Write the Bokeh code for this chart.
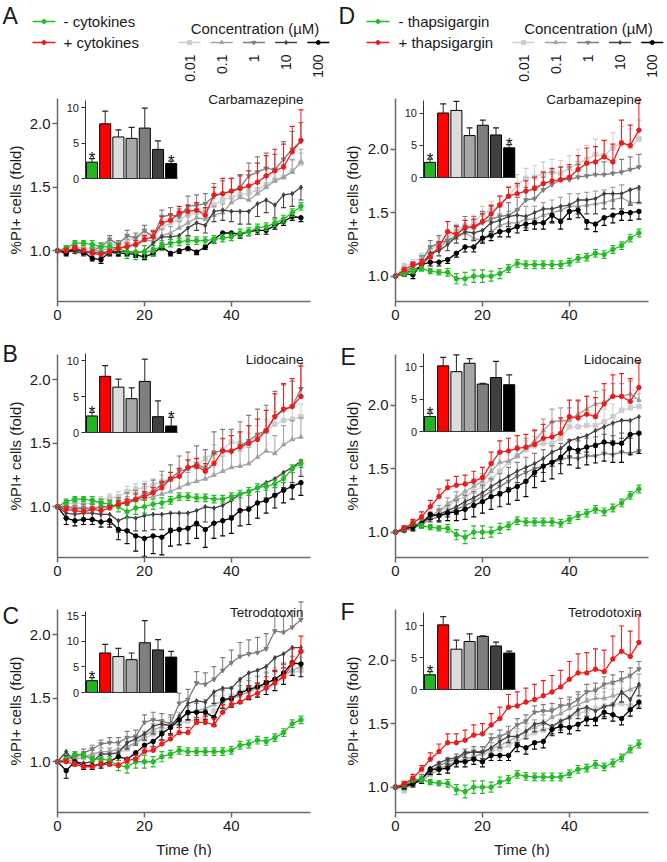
import math
from bokeh.plotting import figure
from bokeh.models import Range1d, FixedTicker, PrintfTickFormatter, LinearAxis
from bokeh.layouts import row, column
from bokeh.embed import file_html
from bokeh.resources import INLINE
from bokeh.core.properties import value

# ---------------- data ----------------
T = [0, 2, 4, 6, 8, 10, 12, 14, 16, 18, 20, 22, 24, 26, 28, 30, 32, 34, 36, 38, 40, 42, 44, 46, 48, 50, 52, 54, 56]
X_TICKS = [0, 20, 40]
Y_TICKS = [1.0, 1.5, 2.0]
CONC_LABELS = ["0.01", "0.1", "1", "10", "100"]
BAR_GROUPS = ["-", "+", "0.01", "0.1", "1", "10", "100"]

# Panel A - Carbamazepine (cytokines)
A_GREEN = [1.00,1.02,1.06,1.06,1.05,1.03,1.03,1.02,0.99,0.99,0.99,1.00,1.04,1.06,1.07,1.08,1.08,1.08,1.09,1.10,1.11,1.14,1.15,1.18,1.19,1.22,1.25,1.30,1.35]
A_RED = [1.00,1.00,1.02,1.00,0.98,0.97,0.99,1.02,1.03,1.05,1.09,1.11,1.22,1.24,1.30,1.31,1.32,1.28,1.44,1.45,1.47,1.49,1.51,1.54,1.59,1.63,1.66,1.78,1.87]
A_C001 = [1.00,1.02,1.03,1.02,1.02,1.03,1.05,1.04,1.08,1.10,1.13,1.12,1.18,1.22,1.25,1.28,1.30,1.32,1.36,1.40,1.42,1.44,1.45,1.48,1.52,1.56,1.58,1.63,1.69]
A_C01 = [1.00,1.00,1.01,0.99,1.00,1.00,1.02,1.01,1.05,1.04,1.08,1.08,1.12,1.14,1.18,1.22,1.26,1.25,1.28,1.30,1.38,1.42,1.40,1.45,1.50,1.55,1.58,1.62,1.70]
A_C1 = [1.00,1.00,0.99,0.98,1.00,1.03,1.09,1.05,1.12,1.10,1.16,1.11,1.27,1.28,1.27,1.35,1.36,1.37,1.43,1.45,1.47,1.50,1.59,1.62,1.65,1.64,1.72,1.80,1.86]
A_C10 = [1.00,0.99,1.00,0.98,0.99,0.98,1.00,0.99,1.00,0.98,1.00,1.06,1.11,1.11,1.12,1.18,1.22,1.20,1.31,1.32,1.31,1.31,1.31,1.37,1.40,1.36,1.44,1.45,1.50]
A_C100 = [1.00,0.98,1.02,0.99,0.94,0.93,0.99,0.98,0.98,0.97,0.95,0.98,1.03,0.98,1.00,1.02,0.99,1.03,1.09,1.14,1.14,1.13,1.15,1.16,1.16,1.20,1.23,1.27,1.26]
A_GREEN_ERR = [0.00,0.02,0.02,0.02,0.03,0.03,0.03,0.04,0.05,0.06,0.05,0.04,0.04,0.03,0.03,0.03,0.03,0.03,0.03,0.03,0.03,0.03,0.03,0.03,0.03,0.03,0.03,0.03,0.03]
A_RED_ERR = [0.00,0.02,0.02,0.02,0.02,0.02,0.02,0.03,0.03,0.03,0.03,0.04,0.05,0.05,0.05,0.05,0.06,0.06,0.06,0.12,0.10,0.10,0.12,0.15,0.16,0.17,0.18,0.20,0.24]
A_C001_ERR = [0.00,0.02,0.02,0.02,0.02,0.02,0.03,0.03,0.03,0.03,0.03,0.04,0.04,0.04,0.05,0.05,0.05,0.05,0.05,0.06,0.06,0.06,0.07,0.07,0.07,0.08,0.08,0.08,0.08]
A_C01_ERR = [0.00,0.02,0.02,0.02,0.03,0.03,0.03,0.03,0.04,0.04,0.04,0.04,0.05,0.05,0.05,0.06,0.06,0.06,0.07,0.07,0.08,0.08,0.08,0.09,0.09,0.10,0.10,0.10,0.10]
A_C1_ERR = [0.00,0.02,0.02,0.02,0.02,0.03,0.03,0.03,0.04,0.04,0.04,0.05,0.05,0.06,0.06,0.08,0.08,0.08,0.10,0.10,0.10,0.10,0.10,0.12,0.12,0.12,0.14,0.14,0.15]
A_C10_ERR = [0.00,0.02,0.02,0.02,0.02,0.03,0.03,0.03,0.03,0.03,0.03,0.04,0.05,0.05,0.05,0.06,0.06,0.06,0.08,0.08,0.08,0.10,0.10,0.10,0.10,0.10,0.10,0.10,0.10]
A_C100_ERR = [0.00,0.02,0.02,0.02,0.02,0.03,0.03,0.02,0.02,0.02,0.02,0.02,0.02,0.02,0.02,0.02,0.02,0.02,0.03,0.03,0.03,0.03,0.03,0.03,0.03,0.03,0.03,0.03,0.03]
A_BARS = [2.3, 7.7, 5.85, 5.65, 7.1, 4.1, 2.1]
A_BAR_ERR = [0.5, 1.8, 1.0, 1.55, 2.8, 1.2, 0.35]
A_STARS = [1, 0, 0, 0, 0, 0, 1]

# Panel B - Lidocaine (cytokines)
B_GREEN = [1.00,1.04,1.06,1.06,1.05,1.03,1.02,1.00,0.96,0.99,1.00,1.02,1.03,1.05,1.08,1.08,1.07,1.07,1.06,1.06,1.08,1.10,1.12,1.15,1.16,1.18,1.22,1.30,1.34]
B_RED = [1.00,0.98,0.97,0.96,0.98,0.97,0.99,1.02,1.03,1.06,1.08,1.11,1.15,1.22,1.24,1.31,1.32,1.28,1.34,1.44,1.44,1.47,1.50,1.53,1.60,1.71,1.77,1.79,1.87]
B_C001 = [1.00,1.02,1.03,1.02,1.03,1.05,1.07,1.08,1.12,1.14,1.15,1.17,1.20,1.22,1.25,1.30,1.32,1.38,1.42,1.45,1.51,1.50,1.50,1.55,1.60,1.65,1.68,1.69,1.71]
B_C01 = [1.00,1.00,1.00,0.99,0.99,1.00,1.00,1.02,1.03,1.05,1.06,1.08,1.10,1.12,1.15,1.18,1.20,1.22,1.25,1.28,1.31,1.32,1.34,1.39,1.44,1.42,1.49,1.53,1.55]
B_C1 = [1.00,1.00,0.98,0.99,0.98,1.00,1.00,1.02,1.05,1.06,1.10,1.12,1.18,1.22,1.28,1.30,1.34,1.30,1.43,1.44,1.43,1.48,1.52,1.57,1.60,1.71,1.76,1.79,1.93]
B_C10 = [1.00,0.95,0.94,0.95,0.95,0.94,0.94,0.89,0.92,0.91,0.93,0.94,0.94,0.95,0.95,0.95,0.97,1.00,0.99,1.01,1.05,1.10,1.12,1.15,1.19,1.22,1.27,1.31,1.36]
B_C100 = [1.00,0.91,0.89,0.90,0.90,0.88,0.89,0.82,0.81,0.77,0.75,0.77,0.76,0.81,0.82,0.83,0.87,0.82,0.87,0.89,0.91,0.97,0.98,1.03,1.05,1.09,1.13,1.16,1.19]
B_GREEN_ERR = [0.00,0.02,0.02,0.02,0.03,0.03,0.03,0.04,0.05,0.05,0.05,0.04,0.04,0.03,0.03,0.03,0.03,0.03,0.03,0.03,0.03,0.03,0.03,0.03,0.03,0.03,0.03,0.03,0.03]
B_RED_ERR = [0.00,0.02,0.02,0.02,0.02,0.02,0.02,0.03,0.03,0.04,0.04,0.04,0.05,0.05,0.06,0.06,0.06,0.06,0.08,0.10,0.12,0.12,0.14,0.16,0.16,0.18,0.20,0.22,0.24]
B_C001_ERR = [0.00,0.02,0.02,0.02,0.03,0.03,0.03,0.04,0.04,0.04,0.05,0.05,0.05,0.06,0.06,0.06,0.07,0.07,0.07,0.08,0.08,0.08,0.08,0.09,0.09,0.10,0.10,0.10,0.10]
B_C01_ERR = [0.00,0.03,0.03,0.03,0.03,0.04,0.04,0.05,0.05,0.06,0.06,0.07,0.07,0.08,0.08,0.09,0.10,0.10,0.11,0.12,0.12,0.12,0.13,0.14,0.14,0.14,0.15,0.15,0.15]
B_C1_ERR = [0.00,0.03,0.03,0.03,0.04,0.04,0.05,0.05,0.06,0.07,0.08,0.09,0.10,0.11,0.12,0.13,0.14,0.15,0.16,0.17,0.18,0.19,0.20,0.20,0.20,0.20,0.20,0.20,0.20]
B_C10_ERR = [0.00,0.04,0.05,0.05,0.06,0.07,0.08,0.09,0.10,0.10,0.12,0.12,0.12,0.12,0.12,0.12,0.12,0.12,0.12,0.12,0.12,0.12,0.12,0.12,0.12,0.12,0.12,0.12,0.12]
B_C100_ERR = [0.00,0.05,0.04,0.04,0.04,0.04,0.05,0.08,0.10,0.12,0.14,0.14,0.14,0.12,0.12,0.12,0.12,0.14,0.12,0.12,0.12,0.12,0.12,0.12,0.10,0.10,0.10,0.10,0.10]
B_BARS = [2.3, 7.8, 6.3, 4.7, 7.1, 2.2, 0.9]
B_BAR_ERR = [0.5, 1.5, 1.1, 1.5, 3.1, 2.2, 1.2]
B_STARS = [1, 0, 0, 0, 0, 0, 1]

# Panel C - Tetrodotoxin (cytokines)
C_GREEN = [1.00,1.02,1.06,1.05,1.02,1.02,1.01,0.97,0.96,1.00,1.00,1.00,1.04,1.06,1.09,1.08,1.08,1.08,1.08,1.08,1.09,1.13,1.14,1.17,1.16,1.19,1.23,1.30,1.33]
C_RED = [1.00,1.00,0.98,0.96,0.96,0.98,0.98,0.97,1.01,1.02,1.08,1.09,1.14,1.18,1.23,1.23,1.31,1.31,1.29,1.39,1.45,1.47,1.51,1.54,1.58,1.62,1.67,1.77,1.87]
C_C001 = [1.00,1.01,1.03,1.05,1.05,1.06,1.07,1.07,1.10,1.15,1.18,1.22,1.25,1.28,1.30,1.32,1.33,1.35,1.40,1.45,1.52,1.55,1.58,1.60,1.62,1.65,1.66,1.70,1.72]
C_C01 = [1.00,1.00,1.02,1.03,1.06,1.08,1.08,1.10,1.12,1.15,1.20,1.25,1.28,1.30,1.33,1.38,1.40,1.42,1.45,1.48,1.50,1.52,1.55,1.58,1.60,1.62,1.68,1.72,1.75]
C_C1 = [1.00,1.02,1.04,1.07,1.10,1.14,1.15,1.15,1.19,1.20,1.31,1.33,1.32,1.30,1.46,1.49,1.62,1.61,1.65,1.72,1.78,1.83,1.85,1.86,1.89,2.03,2.02,2.06,2.12]
C_C10 = [1.00,1.08,1.00,0.99,1.00,1.06,1.06,1.07,1.15,1.18,1.22,1.28,1.30,1.28,1.36,1.46,1.48,1.47,1.55,1.58,1.58,1.65,1.70,1.72,1.75,1.82,1.85,1.90,1.90]
C_C100 = [1.00,0.93,1.00,0.97,0.97,0.98,1.00,1.04,1.02,1.07,1.13,1.16,1.22,1.27,1.33,1.39,1.39,1.39,1.35,1.49,1.50,1.54,1.57,1.59,1.62,1.65,1.70,1.78,1.77]
C_GREEN_ERR = [0.00,0.02,0.02,0.02,0.02,0.02,0.03,0.04,0.05,0.05,0.05,0.04,0.04,0.03,0.03,0.03,0.03,0.03,0.03,0.03,0.03,0.03,0.03,0.03,0.03,0.03,0.03,0.03,0.03]
C_RED_ERR = [0.00,0.02,0.02,0.02,0.02,0.02,0.02,0.02,0.02,0.03,0.03,0.03,0.03,0.03,0.04,0.04,0.04,0.05,0.05,0.06,0.06,0.07,0.08,0.08,0.09,0.10,0.10,0.12,0.12]
C_C001_ERR = [0.00,0.02,0.02,0.02,0.02,0.02,0.03,0.03,0.03,0.03,0.04,0.04,0.04,0.05,0.05,0.05,0.06,0.06,0.06,0.07,0.07,0.08,0.08,0.08,0.09,0.09,0.10,0.10,0.10]
C_C01_ERR = [0.00,0.02,0.02,0.02,0.03,0.03,0.03,0.03,0.04,0.04,0.04,0.05,0.05,0.05,0.06,0.06,0.06,0.07,0.07,0.08,0.08,0.08,0.09,0.09,0.10,0.10,0.10,0.11,0.11]
C_C1_ERR = [0.00,0.02,0.02,0.03,0.03,0.03,0.04,0.04,0.05,0.05,0.06,0.06,0.06,0.07,0.08,0.08,0.09,0.09,0.10,0.10,0.10,0.11,0.11,0.12,0.12,0.12,0.13,0.13,0.14]
C_C10_ERR = [0.00,0.03,0.03,0.03,0.03,0.04,0.04,0.04,0.05,0.05,0.05,0.06,0.06,0.07,0.07,0.08,0.08,0.08,0.09,0.09,0.10,0.10,0.10,0.10,0.11,0.11,0.11,0.12,0.12]
C_C100_ERR = [0.00,0.06,0.03,0.03,0.03,0.03,0.03,0.03,0.03,0.04,0.04,0.04,0.05,0.05,0.06,0.06,0.06,0.06,0.07,0.07,0.07,0.08,0.08,0.08,0.09,0.09,0.09,0.10,0.10]
C_BARS = [2.3, 7.7, 7.0, 6.4, 9.7, 8.3, 6.9]
C_BAR_ERR = [0.6, 1.7, 1.6, 1.3, 4.3, 2.0, 1.1]
C_STARS = [1, 0, 0, 0, 0, 0, 0]

# Panel D - Carbamazepine (thapsigargin)
D_GREEN = [1.00,1.02,1.04,1.06,1.04,1.03,1.03,0.98,0.98,1.00,1.00,1.00,1.02,1.06,1.10,1.09,1.09,1.09,1.09,1.09,1.11,1.14,1.15,1.18,1.17,1.21,1.24,1.30,1.34]
D_RED = [1.00,1.05,1.09,1.10,1.15,1.23,1.35,1.33,1.38,1.39,1.43,1.49,1.56,1.63,1.65,1.67,1.69,1.73,1.75,1.76,1.78,1.84,1.89,1.90,1.94,1.90,2.05,2.03,2.15]
D_C001 = [1.00,1.08,1.10,1.15,1.20,1.26,1.30,1.36,1.38,1.42,1.49,1.52,1.56,1.63,1.72,1.77,1.78,1.81,1.82,1.81,1.85,1.89,1.92,1.96,1.95,2.01,2.05,2.02,2.08]
D_C01 = [1.00,1.03,1.08,1.10,1.18,1.22,1.28,1.30,1.34,1.30,1.28,1.35,1.40,1.42,1.42,1.45,1.45,1.48,1.50,1.52,1.55,1.55,1.56,1.57,1.58,1.60,1.62,1.58,1.58]
D_C1 = [1.00,1.03,1.07,1.12,1.23,1.26,1.28,1.32,1.39,1.38,1.42,1.45,1.47,1.48,1.52,1.60,1.61,1.68,1.72,1.76,1.76,1.78,1.79,1.80,1.80,1.81,1.82,1.84,1.86]
D_C10 = [1.00,1.02,1.05,1.08,1.18,1.20,1.25,1.31,1.35,1.34,1.36,1.42,1.44,1.47,1.48,1.47,1.50,1.53,1.53,1.55,1.56,1.60,1.60,1.61,1.65,1.65,1.65,1.68,1.70]
D_C100 = [1.00,1.02,1.01,1.09,1.11,1.11,1.13,1.18,1.23,1.23,1.30,1.32,1.35,1.36,1.39,1.41,1.42,1.42,1.48,1.43,1.51,1.52,1.43,1.41,1.46,1.48,1.50,1.50,1.51]
D_GREEN_ERR = [0.00,0.02,0.02,0.02,0.02,0.02,0.03,0.04,0.05,0.05,0.05,0.04,0.04,0.03,0.03,0.03,0.03,0.03,0.03,0.03,0.03,0.03,0.03,0.03,0.03,0.03,0.03,0.03,0.03]
D_RED_ERR = [0.00,0.02,0.02,0.03,0.03,0.04,0.08,0.06,0.06,0.06,0.06,0.07,0.07,0.07,0.08,0.08,0.09,0.09,0.10,0.10,0.10,0.11,0.12,0.12,0.13,0.14,0.18,0.16,0.24]
D_C001_ERR = [0.00,0.02,0.03,0.03,0.04,0.04,0.05,0.05,0.06,0.06,0.06,0.07,0.07,0.08,0.08,0.08,0.09,0.09,0.10,0.10,0.10,0.11,0.11,0.12,0.12,0.12,0.13,0.14,0.15]
D_C01_ERR = [0.00,0.02,0.03,0.03,0.04,0.05,0.06,0.06,0.07,0.07,0.08,0.08,0.09,0.09,0.10,0.10,0.10,0.10,0.10,0.10,0.10,0.10,0.10,0.10,0.10,0.10,0.10,0.10,0.10]
D_C1_ERR = [0.00,0.02,0.03,0.04,0.05,0.06,0.07,0.08,0.08,0.09,0.09,0.10,0.10,0.10,0.10,0.10,0.10,0.10,0.10,0.10,0.10,0.10,0.10,0.10,0.10,0.10,0.10,0.10,0.10]
D_C10_ERR = [0.00,0.02,0.03,0.03,0.04,0.04,0.05,0.05,0.06,0.06,0.07,0.07,0.08,0.08,0.08,0.09,0.09,0.10,0.10,0.10,0.11,0.11,0.11,0.12,0.12,0.12,0.12,0.12,0.12]
D_C100_ERR = [0.00,0.02,0.03,0.03,0.03,0.03,0.03,0.03,0.04,0.04,0.04,0.04,0.04,0.05,0.05,0.05,0.05,0.05,0.06,0.06,0.06,0.06,0.06,0.06,0.06,0.06,0.06,0.06,0.06]
D_BARS = [2.35, 10.0, 10.4, 6.5, 8.1, 6.6, 4.6]
D_BAR_ERR = [0.5, 1.4, 1.4, 1.2, 0.8, 1.1, 0.5]
D_STARS = [1, 0, 0, 0, 0, 0, 1]

# Panel E - Lidocaine (thapsigargin)
E_GREEN = [1.00,1.03,1.07,1.05,1.04,1.03,1.03,0.98,0.96,1.00,1.00,1.00,1.03,1.05,1.09,1.08,1.08,1.08,1.08,1.07,1.10,1.13,1.15,1.18,1.16,1.19,1.23,1.29,1.34]
E_RED = [1.00,1.03,1.07,1.12,1.20,1.28,1.35,1.37,1.38,1.40,1.43,1.54,1.63,1.64,1.66,1.67,1.69,1.74,1.75,1.78,1.91,1.90,1.93,1.91,2.01,2.07,2.07,2.03,2.14]
E_C001 = [1.00,1.02,1.05,1.08,1.12,1.16,1.20,1.25,1.28,1.32,1.36,1.42,1.48,1.55,1.60,1.65,1.68,1.70,1.70,1.74,1.83,1.83,1.84,1.84,1.87,1.91,1.96,1.98,1.99]
E_C01 = [1.00,1.02,1.04,1.08,1.12,1.17,1.22,1.27,1.32,1.36,1.40,1.48,1.55,1.56,1.60,1.66,1.72,1.80,1.87,1.88,1.88,1.93,1.97,2.01,2.02,2.07,2.07,2.09,2.04]
E_C1 = [1.00,1.01,1.03,1.06,1.10,1.12,1.15,1.18,1.21,1.24,1.28,1.32,1.36,1.40,1.44,1.47,1.50,1.52,1.55,1.57,1.59,1.58,1.60,1.60,1.62,1.61,1.63,1.62,1.64]
E_C10 = [1.00,1.02,1.05,1.07,1.12,1.14,1.17,1.20,1.24,1.27,1.31,1.36,1.40,1.44,1.48,1.51,1.54,1.58,1.63,1.66,1.72,1.74,1.76,1.80,1.83,1.86,1.88,1.88,1.91]
E_C100 = [1.00,1.03,1.04,1.07,1.14,1.13,1.15,1.16,1.18,1.21,1.24,1.28,1.30,1.33,1.36,1.40,1.47,1.52,1.55,1.59,1.66,1.645,1.67,1.685,1.71,1.70,1.70,1.77,1.78]
E_GREEN_ERR = [0.00,0.02,0.02,0.02,0.02,0.02,0.03,0.04,0.05,0.05,0.05,0.04,0.04,0.03,0.03,0.03,0.03,0.03,0.03,0.03,0.03,0.03,0.03,0.03,0.03,0.03,0.03,0.03,0.03]
E_RED_ERR = [0.00,0.02,0.03,0.04,0.05,0.06,0.06,0.07,0.07,0.08,0.08,0.09,0.09,0.10,0.10,0.10,0.11,0.11,0.12,0.12,0.13,0.14,0.14,0.15,0.16,0.17,0.18,0.18,0.20]
E_C001_ERR = [0.00,0.02,0.02,0.03,0.03,0.03,0.04,0.04,0.04,0.05,0.05,0.05,0.06,0.06,0.06,0.07,0.07,0.07,0.08,0.08,0.08,0.09,0.09,0.09,0.10,0.10,0.10,0.10,0.10]
E_C01_ERR = [0.00,0.02,0.03,0.03,0.04,0.04,0.05,0.05,0.05,0.06,0.06,0.07,0.07,0.08,0.08,0.08,0.09,0.09,0.10,0.10,0.10,0.10,0.10,0.10,0.10,0.10,0.10,0.10,0.10]
E_C1_ERR = [0.00,0.03,0.04,0.04,0.05,0.06,0.06,0.07,0.08,0.08,0.09,0.10,0.10,0.11,0.11,0.12,0.12,0.13,0.13,0.13,0.14,0.14,0.14,0.15,0.15,0.15,0.15,0.15,0.15]
E_C10_ERR = [0.00,0.02,0.03,0.03,0.04,0.05,0.05,0.06,0.06,0.07,0.07,0.08,0.08,0.09,0.09,0.10,0.10,0.11,0.11,0.12,0.12,0.12,0.13,0.13,0.13,0.14,0.14,0.14,0.14]
E_C100_ERR = [0.00,0.02,0.03,0.03,0.04,0.05,0.06,0.07,0.08,0.09,0.09,0.10,0.10,0.11,0.11,0.12,0.12,0.12,0.13,0.13,0.13,0.14,0.14,0.14,0.15,0.15,0.15,0.16,0.16]
E_BARS = [2.3, 10.1, 9.2, 10.5, 7.3, 8.3, 7.2]
E_BAR_ERR = [0.5, 1.3, 2.6, 0.7, 0.1, 2.5, 1.5]
E_STARS = [1, 0, 0, 0, 0, 0, 0]

# Panel F - Tetrodotoxin (thapsigargin)
F_GREEN = [1.00,1.02,1.06,1.06,1.04,1.03,1.03,0.98,0.965,1.00,1.00,1.00,1.04,1.06,1.10,1.085,1.08,1.08,1.08,1.08,1.105,1.14,1.15,1.18,1.16,1.19,1.23,1.30,1.34]
F_RED = [1.00,1.025,1.07,1.14,1.22,1.28,1.35,1.35,1.37,1.41,1.42,1.49,1.54,1.63,1.64,1.67,1.69,1.72,1.75,1.79,1.85,1.90,1.90,1.93,1.91,2.01,2.07,2.03,2.14]
F_C001 = [1.00,0.97,1.03,1.05,1.10,1.14,1.17,1.19,1.21,1.24,1.26,1.28,1.30,1.33,1.36,1.40,1.43,1.45,1.47,1.52,1.55,1.58,1.60,1.62,1.64,1.65,1.66,1.64,1.65]
F_C01 = [1.00,1.00,1.03,1.05,1.10,1.14,1.18,1.20,1.22,1.24,1.27,1.30,1.33,1.36,1.40,1.44,1.47,1.50,1.55,1.58,1.62,1.65,1.68,1.70,1.70,1.72,1.74,1.77,1.80]
F_C1 = [1.00,1.02,1.04,1.07,1.12,1.17,1.20,1.22,1.26,1.28,1.28,1.38,1.40,1.43,1.49,1.52,1.59,1.60,1.60,1.64,1.65,1.69,1.75,1.76,1.81,1.825,1.85,1.88,1.93]
F_C10 = [1.00,1.00,1.02,1.06,1.15,1.19,1.22,1.23,1.275,1.275,1.275,1.31,1.36,1.40,1.40,1.44,1.495,1.51,1.48,1.52,1.55,1.61,1.63,1.60,1.635,1.65,1.75,1.69,1.81]
F_C100 = [1.00,1.01,1.03,1.06,1.14,1.14,1.15,1.20,1.20,1.22,1.20,1.25,1.25,1.25,1.33,1.31,1.35,1.36,1.455,1.48,1.47,1.495,1.535,1.535,1.59,1.57,1.54,1.61,1.67]
F_GREEN_ERR = [0.00,0.02,0.02,0.02,0.02,0.02,0.03,0.04,0.05,0.05,0.05,0.04,0.04,0.03,0.03,0.03,0.03,0.03,0.03,0.03,0.03,0.03,0.03,0.03,0.03,0.03,0.03,0.03,0.03]
F_RED_ERR = [0.00,0.02,0.03,0.03,0.05,0.06,0.07,0.07,0.08,0.08,0.08,0.09,0.09,0.10,0.11,0.11,0.12,0.12,0.13,0.13,0.14,0.15,0.16,0.16,0.17,0.18,0.20,0.20,0.22]
F_C001_ERR = [0.00,0.04,0.04,0.04,0.04,0.05,0.05,0.05,0.06,0.06,0.06,0.07,0.07,0.07,0.08,0.08,0.08,0.08,0.09,0.09,0.10,0.10,0.10,0.11,0.11,0.12,0.12,0.12,0.13]
F_C01_ERR = [0.00,0.02,0.02,0.03,0.03,0.03,0.04,0.04,0.04,0.05,0.05,0.05,0.05,0.06,0.06,0.06,0.06,0.07,0.07,0.07,0.07,0.08,0.08,0.08,0.08,0.09,0.09,0.09,0.09]
F_C1_ERR = [0.00,0.02,0.02,0.03,0.03,0.03,0.03,0.04,0.04,0.04,0.04,0.04,0.05,0.05,0.05,0.05,0.05,0.05,0.06,0.06,0.06,0.06,0.06,0.06,0.06,0.06,0.06,0.06,0.06]
F_C10_ERR = [0.00,0.02,0.02,0.03,0.03,0.03,0.04,0.04,0.04,0.04,0.05,0.05,0.05,0.05,0.05,0.06,0.06,0.06,0.06,0.07,0.07,0.07,0.07,0.08,0.08,0.08,0.08,0.09,0.09]
F_C100_ERR = [0.00,0.02,0.02,0.03,0.04,0.04,0.04,0.04,0.04,0.04,0.04,0.04,0.04,0.04,0.05,0.05,0.05,0.05,0.05,0.05,0.05,0.05,0.05,0.05,0.05,0.05,0.05,0.05,0.05]
F_BARS = [2.3, 10.1, 6.3, 7.5, 8.3, 6.8, 5.7]
F_BAR_ERR = [0.5, 1.3, 1.4, 1.2, 0.1, 0.6, 0.3]
F_STARS = [1, 0, 0, 0, 0, 0, 0]

# ---------------- styles / layout ----------------
FONT = "Liberation Sans"
AXIS_COLOR = "#6a6a6a"
TEXT_COLOR = "#1a1a1a"
ORDER = ["c001", "c01", "c1", "c10", "c100", "green", "red"]
COLORS = {"c001": "#cdcdcd", "c01": "#a2a2a2", "c1": "#7c7c7c", "c10": "#424242",
          "c100": "#000000", "green": "#26bb26", "red": "#ec1c1c"}
MARKERS = {"c001": "square", "c01": "triangle", "c1": "inverted_triangle", "c10": "diamond",
           "c100": "circle", "green": "circle", "red": "circle"}
ERR_DIR = {"c001": 1, "c01": 1, "c1": 1, "c10": -1, "c100": -1, "green": 0, "red": 1}
BAR_COLORS = ["#22b522", "#ff0000", "#dcdcdc", "#a8a8a8", "#7f7f7f", "#404040", "#000000"]

LEFT_W, RIGHT_W = 333, 333
LEFT_PL, RIGHT_PL = 57, 62        # plot-area left edge inside each figure (px)
FRAME_W = 253                     # plot-area width (px)
FRAME_H = 203                     # plot-area height (px)
HEADER_H = 84
X_END = 58.2

# inset geometry (pixels inside the plot area)
INSET_X0 = 34.5
INSET_PITCH = 13.2
INSET_AXIS_PX = 27.5


def style_axis(ax):
    ax.axis_line_color = AXIS_COLOR
    ax.axis_line_width = 1.5
    ax.major_tick_line_color = AXIS_COLOR
    ax.major_tick_line_width = 1.5
    ax.major_tick_out = 5
    ax.major_tick_in = 0
    ax.minor_tick_out = 0
    ax.minor_tick_in = 0
    ax.major_label_text_font = FONT
    ax.major_label_text_font_size = "15px"
    ax.major_label_text_color = TEXT_COLOR


def build_panel(spec, left, Hf, PT, xlabel, letter_px, drug_dy):
    """Whole figure is the frame; axes sit at fixed data locations so every text stays inside it."""
    W = LEFT_W if left else RIGHT_W
    PL = LEFT_PL if left else RIGHT_PL
    yr0, yr1 = (0.6, 2.2) if left else (0.8, 2.4)
    pxx = FRAME_W / X_END
    pxy = FRAME_H / (yr1 - yr0)

    def X(px):
        return (px - PL) / pxx

    def Y(py):
        return yr1 - (py - PT) / pxy

    p = figure(width=W, height=Hf, x_range=Range1d(X(0), X(W)), y_range=Range1d(Y(Hf), Y(0)),
               x_axis_type=None, y_axis_type=None, toolbar_location=None, output_backend="svg",
               min_border_left=0, min_border_right=0, min_border_top=0, min_border_bottom=0,
               frame_align=False)
    p.grid.visible = False
    p.outline_line_color = None
    p.background_fill_color = "white"
    p.border_fill_color = "white"

    xa = LinearAxis(fixed_location=yr0, bounds=(0, X_END), ticker=FixedTicker(ticks=X_TICKS))
    style_axis(xa)
    xa.major_label_standoff = 3
    p.add_layout(xa, "below")
    ya = LinearAxis(fixed_location=0, bounds=(yr0, yr1), ticker=FixedTicker(ticks=Y_TICKS),
                    formatter=PrintfTickFormatter(format="%.1f"))
    style_axis(ya)
    ya.major_label_standoff = 2
    p.add_layout(ya, "left")

    # axis titles
    p.text(x=[X(15 if left else 19)], y=[(yr0 + yr1) / 2], text=["%PI+ cells (fold)"], angle=math.pi / 2,
           text_font=value(FONT), text_font_size="15px", text_align="center", text_baseline="middle",
           text_color=TEXT_COLOR)
    if xlabel:
        p.text(x=[X(PL + FRAME_W / 2)], y=[Y(Hf - 8)], text=["Time (h)"], text_font=value(FONT),
               text_font_size="15px", text_align="center", text_baseline="middle", text_color=TEXT_COLOR)

    # time-course series
    for key in ORDER:
        vals = spec["series"][key]
        errs = spec["errs"][key]
        c = COLORS[key]
        d = ERR_DIR[key]
        if d == 0:
            lo = [v - e for v, e in zip(vals, errs)]
            hi = [v + e for v, e in zip(vals, errs)]
            caps_y = lo + hi
            caps_x = T + T
        elif d > 0:
            lo = vals
            hi = [v + e for v, e in zip(vals, errs)]
            caps_y = hi
            caps_x = T
        else:
            lo = [v - e for v, e in zip(vals, errs)]
            hi = vals
            caps_y = lo
            caps_x = T
        p.segment(x0=T, y0=lo, x1=T, y1=hi, line_color=c, line_width=1)
        p.scatter(caps_x, caps_y, marker="dash", size=5, line_color=c, line_width=1.2)
        p.line(T, vals, line_color=c, line_width=1.3)
        p.scatter(T, vals, marker=MARKERS[key], size=4.5, fill_color=c, line_color=c)

    # inset bar chart on its own ranges
    z, s = spec["izero"], spec["iscale"]
    p.extra_x_ranges = {"ix": Range1d(-(PL + INSET_X0) / INSET_PITCH, (W - PL - INSET_X0) / INSET_PITCH)}
    p.extra_y_ranges = {"iy": Range1d(-(Hf - PT - z) / s, (PT + z) / s)}
    axis_loc = (INSET_AXIS_PX - INSET_X0) / INSET_PITCH
    idx = list(range(len(BAR_GROUPS)))
    bars = spec["bars"]
    berr = spec["bar_err"]
    p.vbar(x=idx, top=bars, bottom=0, width=0.84, fill_color=BAR_COLORS, line_color="black",
           line_width=1, x_range_name="ix", y_range_name="iy")
    tops = [b + e for b, e in zip(bars, berr)]
    p.segment(x0=idx, y0=bars, x1=idx, y1=tops, line_color="#222222", line_width=1,
              x_range_name="ix", y_range_name="iy")
    p.scatter(idx, tops, marker="dash", size=6, line_color="#222222", line_width=1.2,
              x_range_name="ix", y_range_name="iy")
    sx = [i for i, f in zip(idx, spec["stars"]) if f]
    sy = [t for t, f in zip(tops, spec["stars"]) if f]
    p.text(x=sx, y=sy, text=["*"] * len(sx), text_font=value(FONT), text_font_size="17px",
           text_align="center", text_baseline="alphabetic", text_color="#111111",
           x_range_name="ix", y_range_name="iy")

    iy_axis = LinearAxis(x_range_name="ix", y_range_name="iy", fixed_location=axis_loc,
                         bounds=(0, spec["imax"]), ticker=FixedTicker(ticks=spec["iticks"]))
    iy_axis.axis_line_color = "#333333"
    iy_axis.axis_line_width = 1
    iy_axis.major_tick_line_color = "#333333"
    iy_axis.major_tick_out = 4
    iy_axis.major_tick_in = 0
    iy_axis.minor_tick_out = 0
    iy_axis.minor_tick_in = 0
    iy_axis.major_label_standoff = 2
    iy_axis.major_label_text_font = FONT
    iy_axis.major_label_text_font_size = "11px"
    iy_axis.major_label_text_color = TEXT_COLOR
    p.add_layout(iy_axis, "left")

    ix_axis = LinearAxis(x_range_name="ix", y_range_name="iy", fixed_location=0,
                         bounds=(axis_loc, len(BAR_GROUPS) - 0.5), ticker=FixedTicker(ticks=[]))
    ix_axis.axis_line_color = "#333333"
    ix_axis.axis_line_width = 1
    ix_axis.major_tick_out = 0
    ix_axis.minor_tick_out = 0
    ix_axis.major_label_text_font_size = "0px"
    p.add_layout(ix_axis, "below")

    # drug name at the top-right corner of the plot area
    p.text(x=[X(PL + FRAME_W - 7)], y=[Y(PT + drug_dy)], text=[spec["drug"]], text_font=value(FONT),
           text_font_size="13.5px", text_align="right", text_baseline="middle", text_color=TEXT_COLOR)
    # panel letter
    if spec["letter"]:
        lx, ly = letter_px
        p.text(x=[X(lx)], y=[Y(ly)], text=[spec["letter"]], text_font=value(FONT),
               text_font_size="23px", text_align="left", text_baseline="top", text_color=TEXT_COLOR)
    return p


def build_header(left, letter, treat):
    W = LEFT_W if left else RIGHT_W
    h = figure(width=W, height=HEADER_H, x_range=Range1d(0, W), y_range=Range1d(HEADER_H, 0),
               x_axis_type=None, y_axis_type=None, toolbar_location=None, output_backend="svg",
               min_border_left=0, min_border_right=0, min_border_top=0, min_border_bottom=0,
               frame_align=False)
    h.grid.visible = False
    h.outline_line_color = None
    letter_x = 2 if left else 5
    seg0 = 32 if left else 33
    txt_x = 63 if left else 65
    conc_mid = 254.5 if left else 255
    conc_first = 189 if left else 190
    conc_step = 32.2
    row_y = [21, 42]
    conc_y = 42
    h.text(x=[letter_x], y=[2], text=[letter], text_font=value(FONT), text_font_size="23px",
           text_baseline="top", text_align="left", text_color=TEXT_COLOR)
    tcol = [COLORS["green"], COLORS["red"]]
    h.segment(x0=[seg0, seg0], y0=row_y, x1=[seg0 + 23, seg0 + 23], y1=row_y, line_color=tcol, line_width=1.5)
    h.scatter([seg0 + 11.5, seg0 + 11.5], row_y, marker="circle", size=4, fill_color=tcol, line_color=tcol)
    h.text(x=[txt_x, txt_x], y=row_y, text=["- " + treat, "+ " + treat], text_font=value(FONT),
           text_font_size="15px", text_baseline="middle", text_align="left", text_color=TEXT_COLOR)
    h.text(x=[conc_mid], y=[28], text=["Concentration (\u00b5M)"], text_font=value(FONT),
           text_font_size="15px", text_baseline="middle", text_align="center", text_color=TEXT_COLOR)
    keys = ["c001", "c01", "c1", "c10", "c100"]
    cx = [conc_first + conc_step * i for i in range(len(CONC_LABELS))]
    ccol = [COLORS[k] for k in keys]
    h.segment(x0=[c - 11 for c in cx], y0=[conc_y] * 5, x1=[c + 11 for c in cx], y1=[conc_y] * 5,
              line_color=ccol, line_width=1.5)
    for c, k in zip(cx, keys):
        h.scatter([c], [conc_y], marker=MARKERS[k], size=4, fill_color=COLORS[k], line_color=COLORS[k])
    h.text(x=cx, y=[54] * 5, text=CONC_LABELS, angle=math.pi / 2, text_font=value(FONT),
           text_font_size="14px", text_baseline="middle", text_align="right", text_color=TEXT_COLOR)
    return h


def spec_of(letter, drug, g, r, a, b, c, d, e, ge, re_, ae, be, ce, de, ee, bars, berr, stars,
            imax, iticks, izero, iscale):
    return dict(letter=letter, drug=drug,
                series={"green": g, "red": r, "c001": a, "c01": b, "c1": c, "c10": d, "c100": e},
                errs={"green": ge, "red": re_, "c001": ae, "c01": be, "c1": ce, "c10": de, "c100": ee},
                bars=bars, bar_err=berr, stars=stars, imax=imax, iticks=iticks, izero=izero, iscale=iscale)


SA = spec_of(None, "Carbamazepine", A_GREEN, A_RED, A_C001, A_C01, A_C1, A_C10, A_C100,
             A_GREEN_ERR, A_RED_ERR, A_C001_ERR, A_C01_ERR, A_C1_ERR, A_C10_ERR, A_C100_ERR,
             A_BARS, A_BAR_ERR, A_STARS, 11, [0, 5, 10], 80, 7.1)
SB = spec_of("B", "Lidocaine", B_GREEN, B_RED, B_C001, B_C01, B_C1, B_C10, B_C100,
             B_GREEN_ERR, B_RED_ERR, B_C001_ERR, B_C01_ERR, B_C1_ERR, B_C10_ERR, B_C100_ERR,
             B_BARS, B_BAR_ERR, B_STARS, 11, [0, 5, 10], 78, 7.2)
SC = spec_of("C", "Tetrodotoxin", C_GREEN, C_RED, C_C001, C_C01, C_C1, C_C10, C_C100,
             C_GREEN_ERR, C_RED_ERR, C_C001_ERR, C_C01_ERR, C_C1_ERR, C_C10_ERR, C_C100_ERR,
             C_BARS, C_BAR_ERR, C_STARS, 15.8, [0, 5, 10, 15], 83, 5.13)
SD = spec_of(None, "Carbamazepine", D_GREEN, D_RED, D_C001, D_C01, D_C1, D_C10, D_C100,
             D_GREEN_ERR, D_RED_ERR, D_C001_ERR, D_C01_ERR, D_C1_ERR, D_C10_ERR, D_C100_ERR,
             D_BARS, D_BAR_ERR, D_STARS, 12, [0, 5, 10], 79, 6.45)
SE = spec_of("E", "Lidocaine", E_GREEN, E_RED, E_C001, E_C01, E_C1, E_C10, E_C100,
             E_GREEN_ERR, E_RED_ERR, E_C001_ERR, E_C01_ERR, E_C1_ERR, E_C10_ERR, E_C100_ERR,
             E_BARS, E_BAR_ERR, E_STARS, 12, [0, 5, 10], 77, 6.5)
SF = spec_of("F", "Tetrodotoxin", F_GREEN, F_RED, F_C001, F_C01, F_C1, F_C10, F_C100,
             F_GREEN_ERR, F_RED_ERR, F_C001_ERR, F_C01_ERR, F_C1_ERR, F_C10_ERR, F_C100_ERR,
             F_BARS, F_BAR_ERR, F_STARS, 12, [0, 5, 10], 80, 6.4)

left_col = column(
    build_header(True, "A", "cytokines"),
    build_panel(SA, True, 250, 14, False, None, 1),
    build_panel(SB, True, 255, 20, False, (2, 6), 5),
    build_panel(SC, True, 268, 20, True, (2, 13), 3),
)
right_col = column(
    build_header(False, "D", "thapsigargin"),
    build_panel(SD, False, 250, 14, False, None, 1),
    build_panel(SE, False, 255, 20, False, (7, 9), 5),
    build_panel(SF, False, 268, 20, True, (7, 9), 3),
)
layout = row(left_col, right_col)

open("out.html", "w").write(file_html(layout, INLINE))
